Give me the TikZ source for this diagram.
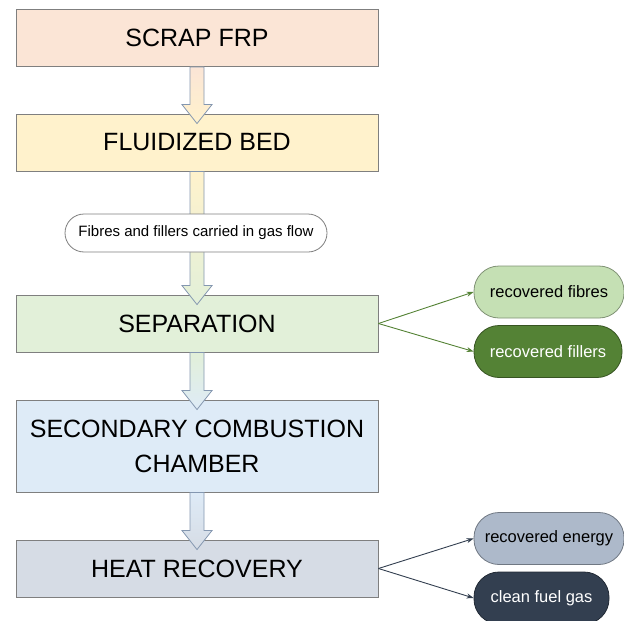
\documentclass[tikz,border=0pt]{standalone}
\usepackage{fontspec}
\setmainfont{Liberation Sans}
\usetikzlibrary{calc,arrows.meta}

\definecolor{stageline}{HTML}{7F7F7F}
\definecolor{arrowline}{HTML}{8497B0}
\definecolor{scrapcol}{HTML}{FBE5D6}
\definecolor{bedcol}{HTML}{FFF2CC}
\definecolor{sepcol}{HTML}{E2F0D9}
\definecolor{combcol}{HTML}{DEEBF7}
\definecolor{heatcol}{HTML}{D6DCE5}
\definecolor{fibrecol}{HTML}{C5E0B4}
\definecolor{fillercol}{HTML}{548235}
\definecolor{energycol}{HTML}{ADB9CA}
\definecolor{fuelcol}{HTML}{333F50}

\tikzset{
  stage/.style={draw=stageline, line width=0.9pt, minimum width=362pt,
    minimum height=57pt, inner sep=0pt, align=center,
    font=\fontsize{25}{35}\selectfont},
  product/.style={draw=#1!65!black, fill=#1, line width=0.8pt,
    rounded corners=25pt, minimum height=52pt, inner sep=0pt,
    font=\fontsize{16.5}{20}\selectfont},
  flowtag/.style={draw=stageline, fill=white, line width=0.8pt,
    rounded corners=19pt, minimum width=262pt, minimum height=38pt,
    inner sep=0pt, font=\fontsize{15}{18}\selectfont},
  blockarrow/.style={draw=arrowline, line width=0.8pt},
  outlink/.style={-{Stealth[length=7pt,width=5pt]}, line width=0.9pt}
}

% hollow block arrow from the bottom of #1 into the top of #2
\newcommand{\flowarrow}[4]{%
  \draw[blockarrow, top color=#3, bottom color=#4]
    ($(#1.south)+(-7,0)$) -- ($(#2.north)+(-7,-9)$) -- ($(#2.north)+(-15,-9)$)
    -- ($(#2.north)+(0,10)$) -- ($(#2.north)+(15,-9)$) -- ($(#2.north)+(7,-9)$)
    -- ($(#1.south)+(7,0)$) -- cycle;}

\begin{document}
\begin{tikzpicture}[x=1pt, y=-1pt]
\useasboundingbox (0,0) rectangle (624,621);

% process stages
\node[stage, fill=scrapcol] (scrap) at (197,38) {SCRAP FRP};
\node[stage, fill=bedcol] (bed) at (197,142.5) {FLUIDIZED BED};
\node[stage, fill=sepcol] (sep) at (197,323.5) {SEPARATION};
\node[stage, fill=combcol, minimum height=92pt] (comb) at (197,446) {SECONDARY COMBUSTION\\CHAMBER};
\node[stage, fill=heatcol] (heat) at (197,568.5) {HEAT RECOVERY};

% flow between stages
\flowarrow{scrap}{bed}{scrapcol}{bedcol}
\flowarrow{bed}{sep}{bedcol}{sepcol}
\flowarrow{sep}{comb}{sepcol}{combcol}
\flowarrow{comb}{heat}{combcol}{heatcol}

\node[flowtag] (gasflow) at (196,233) {Fibres and fillers carried in gas flow};

% outputs
\node[product=fibrecol, minimum width=150pt] (fibres) at (549,292) {recovered fibres};
\node[product=fillercol, minimum width=148pt, text=white] (fillers) at (548,351.5) {recovered fillers};
\node[product=energycol, minimum width=150pt] (energy) at (549,538.5) {recovered energy};
\node[product=fuelcol, minimum width=135pt, text=white] (fuel) at (541.5,598) {clean fuel gas};

\draw[outlink, fillercol] (sep.east) -- (fibres.west);
\draw[outlink, fillercol] (sep.east) -- (fillers.west);
\draw[outlink, fuelcol] (heat.east) -- (energy.west);
\draw[outlink, fuelcol] (heat.east) -- (fuel.west);
\end{tikzpicture}
\end{document}
